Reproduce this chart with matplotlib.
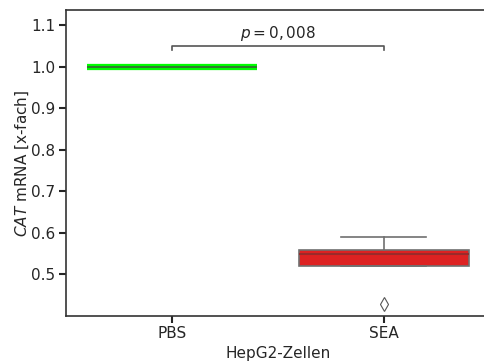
import matplotlib
matplotlib.use('Agg')
import matplotlib.pyplot as plt
import numpy as np

# relative CAT expression, HepG2 cells
groups = ['PBS', 'SEA']
pbs_vals = [1.0, 1.0, 1.0, 1.0, 1.0, 1.0, 1.0, 1.0]
sea_vals = [0.43, 0.52, 0.52, 0.55, 0.55, 0.56, 0.56, 0.59]
box_colors = ['#00ff00', '#dd2222']
p_text = r'$p = 0,008$'

plt.rcParams['font.family'] = 'DejaVu Sans'
plt.rcParams['text.color'] = '#262626'
plt.rcParams['axes.labelcolor'] = '#262626'
plt.rcParams['xtick.color'] = '#262626'
plt.rcParams['ytick.color'] = '#262626'
fig = plt.figure(figsize=(4.85, 3.62), dpi=100)
ax = fig.add_axes([0.136, 0.127, 0.874, 0.845])

bp = ax.boxplot([pbs_vals, sea_vals], positions=[0, 1], widths=0.8,
                patch_artist=True, capwidths=0.4,
                medianprops=dict(color='#4a4a4a', linewidth=1.5),
                whiskerprops=dict(color='#707070', linewidth=1.2),
                capprops=dict(color='#707070', linewidth=1.2),
                flierprops=dict(marker='d', markerfacecolor='white',
                                markeredgecolor='#555555', markersize=7,
                                markeredgewidth=0.8))
for patch, col in zip(bp['boxes'], box_colors):
    patch.set_facecolor(col)
    patch.set_edgecolor('#707070')
    patch.set_linewidth(1.2)
# PBS box collapses to a single line
bp['boxes'][0].set_edgecolor('#00ff00')
bp['boxes'][0].set_linewidth(4.5)
bp['medians'][0].set_color('#2e7d2e')
bp['medians'][0].set_linewidth(1.5)
bp['medians'][1].set_color('#9a2a2a')

# significance bracket
y0, h = 1.04, 0.01
ax.plot([0, 0, 1, 1], [y0, y0 + h, y0 + h, y0], color='#555555', lw=1.2)
ax.text(0.5, y0 + h + 0.008, p_text, ha='center', va='bottom', fontsize=11)

ax.set_xlim(-0.5, 1.5)
ax.set_ylim(0.4, 1.136)
ax.set_yticks([0.5, 0.6, 0.7, 0.8, 0.9, 1.0, 1.1])
ax.set_xticks([0, 1])
ax.set_xticklabels(groups)
ax.tick_params(labelsize=11, width=1.5, length=5, pad=2.5)
for s in ax.spines.values():
    s.set_linewidth(1.2)
    s.set_color('#333333')
ax.spines['right'].set_visible(False)
ax.set_xlabel('HepG2-Zellen', fontsize=11, labelpad=3)
ax.set_ylabel(r'$\it{CAT}$ mRNA [x-fach]', fontsize=11, labelpad=0)

fig.savefig('out.png', dpi=100)
